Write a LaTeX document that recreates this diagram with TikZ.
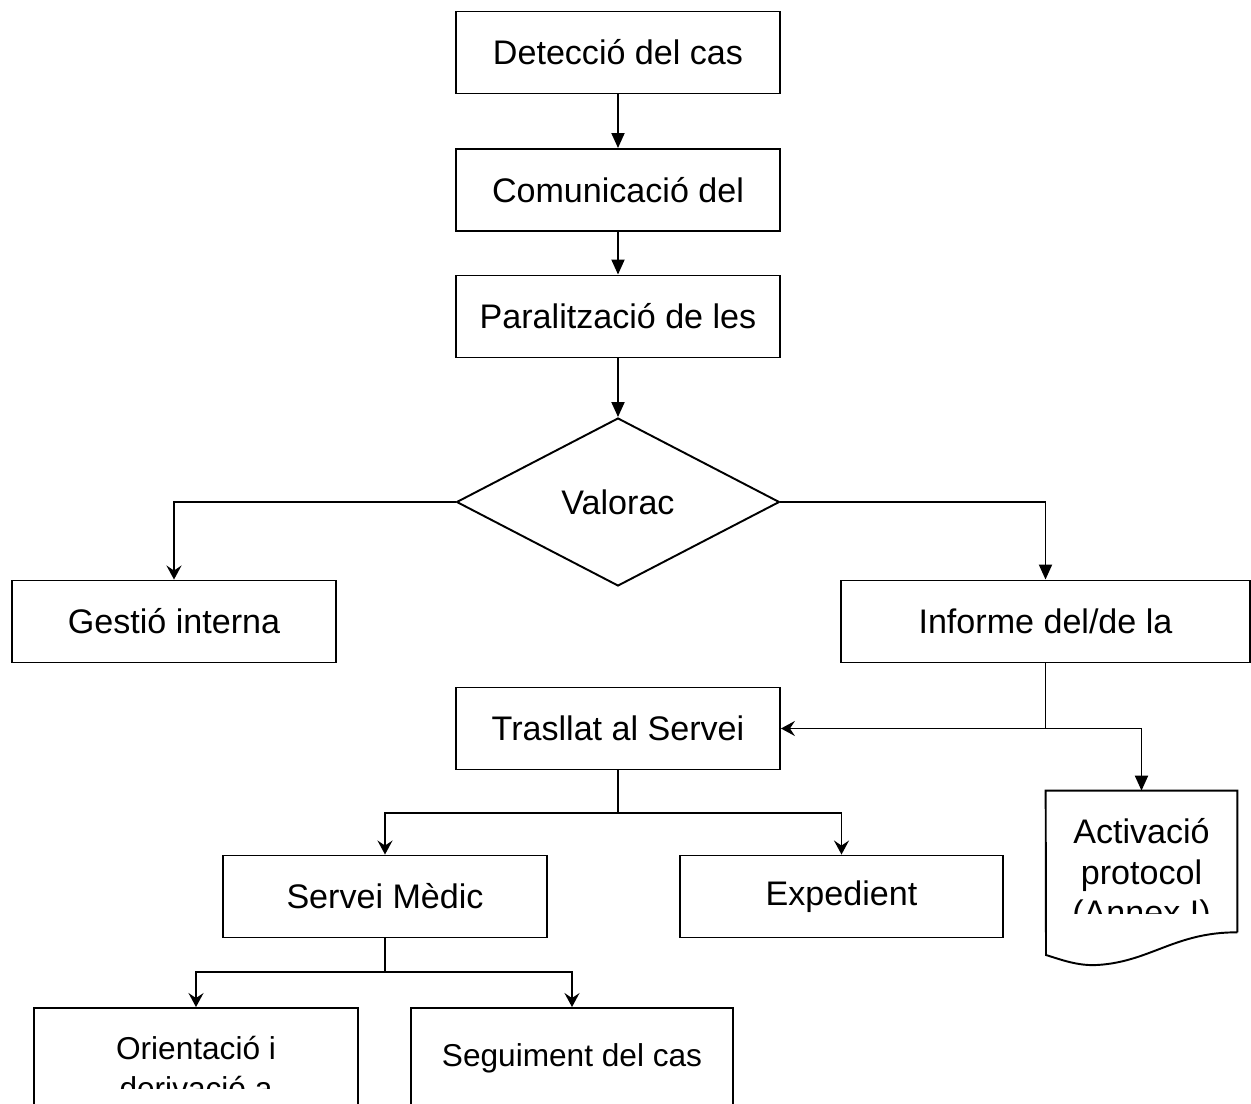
\documentclass[tikz,border=0pt]{standalone}
\usepackage{fontspec}
\setmainfont{Liberation Sans}
\usetikzlibrary{arrows.meta, shapes.geometric}

\tikzset{
    box/.style={draw, line width=1.1pt, fill=white, inner sep=0pt,
        minimum width=6.48cm, minimum height=1.64cm, align=center,
        font=\fontsize{19.4}{22.8}\selectfont},
    smallbox/.style={box, font=\fontsize{18}{22.8}\selectfont},
    decision/.style={diamond, draw, line width=1.1pt, fill=white, inner sep=0pt,
        aspect=1.92, minimum width=6.46cm, minimum height=3.36cm,
        font=\fontsize{19.4}{22.8}\selectfont},
    label/.style={inner sep=0pt, align=center},
    flow/.style={line width=1.1pt, -{Triangle[length=0.3cm, width=0.26cm]}},
    branch/.style={line width=1.1pt, -{Stealth[length=0.28cm, width=0.3cm, inset=0.1cm]}},
    link/.style={line width=1.1pt},
}

\begin{document}
\begin{tikzpicture}[x=0.02cm, y=-0.02cm]
        \useasboundingbox (0,0) rectangle (1251,1104);
        \clip (0,0) rectangle (1251,1104);
        \fill[white] (0,0) rectangle (1251,1104);

        % main column
        \node[box] (det) at (618, 52.5) {Detecció del cas};
        \node[box] (com) at (618, 190) {Comunicació del};
        \node[box] (par) at (618, 316.5) {Paralització de les};
        \node[decision] (val) at (618, 502) {Valorac};

        \node[box] (ges) at (174, 621.5) {Gestió interna};
        \node[box, minimum width=8.18cm] (inf) at (1045.5, 621.5) {Informe del/de la};
        \node[box] (tra) at (618, 728.5) {Trasllat al Servei};
        \node[box] (sme) at (385, 896.5) {Servei Mèdic};
        \node[box, minimum width=6.46cm] (exp) at (841.5, 896.5) {Expedient};

        % document shape
        \node[minimum width=3.82cm, minimum height=2.82cm, inner sep=0pt] (act) at (1141.5, 861.5) {};
        \draw[link, fill=white] (act.south east) -- (act.north east) -- (act.north west) -- (1046, 955)
            .. controls (1062, 960) and (1078, 966) .. (1097, 965)
            .. controls (1150, 962) and (1175, 932) .. (act.south east);
        \begin{scope}
            \clip (1046, 791) rectangle (1237, 913);
            \node[label, font=\fontsize{19.4}{22.8}\selectfont] (acttxt) at (1141.5, 875) {Activació\\protocol\\(Annex I)};
        \end{scope}

        % bottom row
        \node[smallbox, minimum height=2.4cm] (ori) at (196, 1068) {};
        \node[smallbox, minimum width=6.44cm, minimum height=2.0cm] (seg) at (572, 1058) {Seguiment del cas};
        \begin{scope}
            \clip (34, 1008) rectangle (358, 1088);
            \node[label, font=\fontsize{18}{22.8}\selectfont] (oritxt) at (196, 1068) {Orientació i\\derivació a};
        \end{scope}

        % connectors
        \draw[flow] (det) -- (com);
        \draw[flow] (com) -- (par);
        \draw[flow] (par) -- (val);
        \draw[branch] (val.west) -| (ges);
        \draw[flow] (val.east) -| (inf);

        \draw[branch] (inf.south) |- (tra.east);
        \coordinate (isplit) at (inf.south |- tra.east);
        \draw[flow] (isplit) -| (act.north);

        \draw[link] (tra.south) -- ++(0, 43) coordinate (tsplit);
        \draw[branch] (tsplit) -| (sme);
        \draw[branch] (tsplit) -| (exp);

        \draw[link] (sme.south) -- ++(0, 34) coordinate (ssplit);
        \draw[branch] (ssplit) -| (ori);
        \draw[branch] (ssplit) -| (seg);
\end{tikzpicture}
\end{document}
